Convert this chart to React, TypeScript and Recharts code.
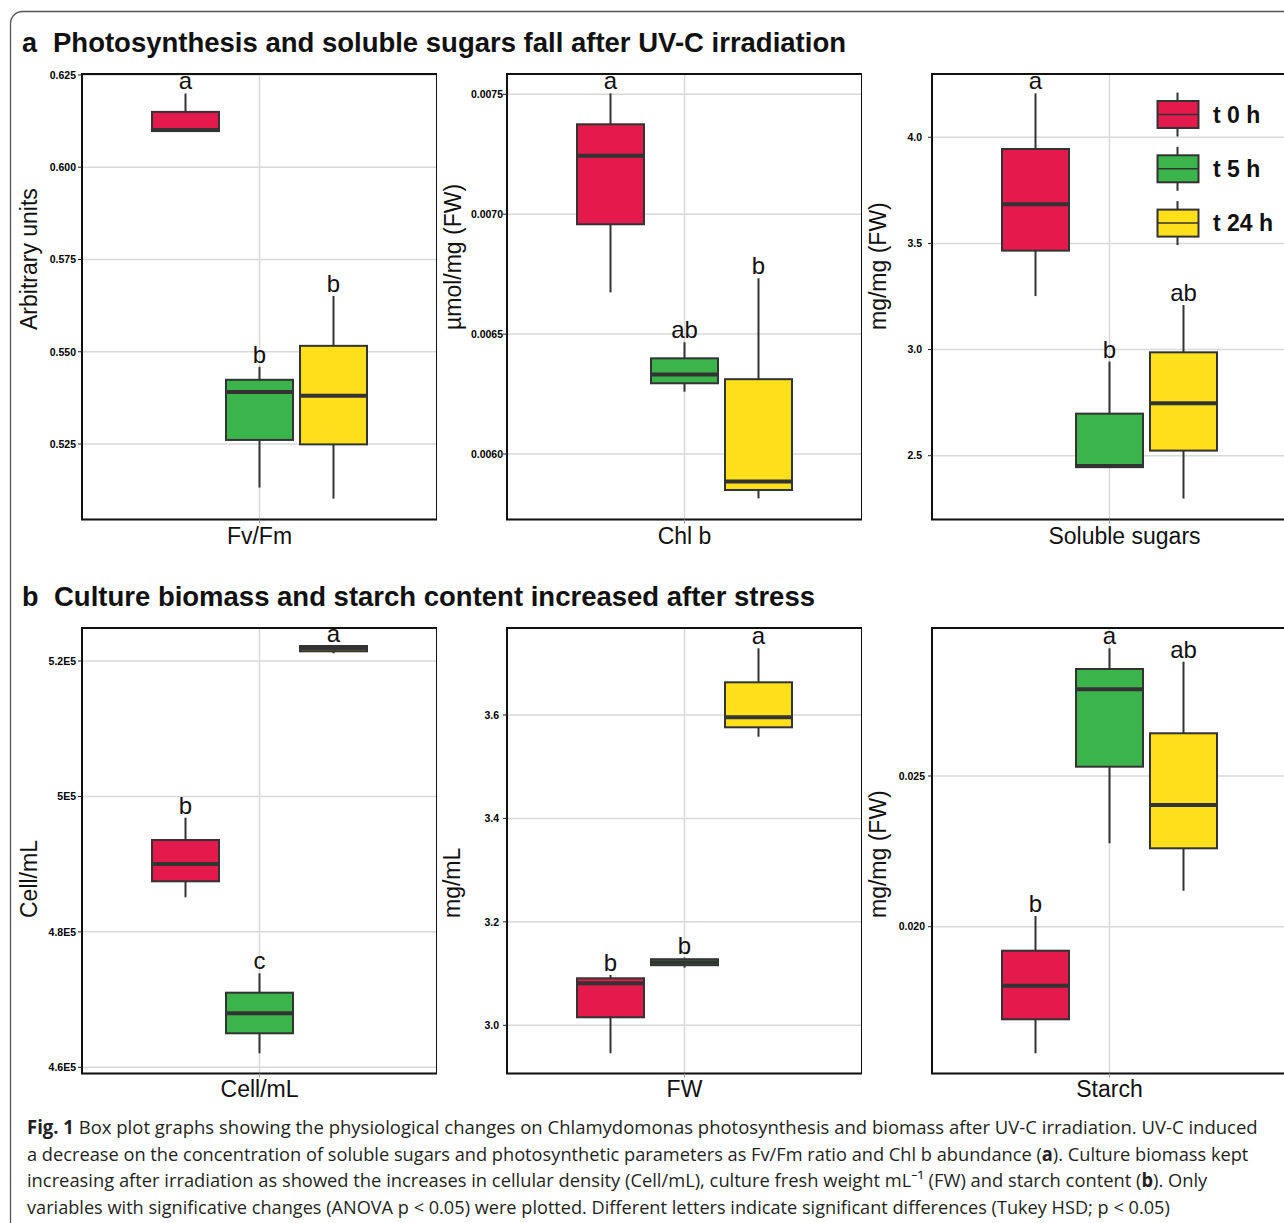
import React, { useLayoutEffect, useRef, useState } from 'react'
import { BarChart, Bar, XAxis, YAxis, CartesianGrid, ReferenceArea, Legend } from 'recharts'

const groups = ['t 0 h', 't 5 h', 't 24 h']
const COLORS = ['#E31A4B', '#3BB44C', '#FFE01B']
const FONT = '"Liberation Sans", Arial, Helvetica, sans-serif'

// each row: [min, q1, median, q3, max] for t 0 h, t 5 h, t 24 h
const fvfmStats = [
  [0.6098, 0.6098, 0.6101, 0.615, 0.62],
  [0.5132, 0.5261, 0.5391, 0.5424, 0.5459],
  [0.5102, 0.5249, 0.5381, 0.5516, 0.5651],
]
const fvfmLetters = ['a', 'b', 'b']
const fvfmTicks = [0.525, 0.55, 0.575, 0.6, 0.625]
const fvfmTickLabels = ['0.525', '0.550', '0.575', '0.600', '0.625']

const chlbStats = [
  [0.006674, 0.006958, 0.007244, 0.007375, 0.007504],
  [0.00626, 0.006295, 0.006332, 0.006399, 0.006466],
  [0.005815, 0.00585, 0.005885, 0.006312, 0.006733],
]
const chlbLetters = ['a', 'ab', 'b']
const chlbTicks = [0.006, 0.0065, 0.007, 0.0075]
const chlbTickLabels = ['0.0060', '0.0065', '0.0070', '0.0075']

const sugarStats = [
  [3.252, 3.466, 3.684, 3.945, 4.207],
  [2.446, 2.446, 2.452, 2.698, 2.943],
  [2.298, 2.524, 2.747, 2.987, 3.21],
]
const sugarLetters = ['a', 'b', 'ab']
const sugarTicks = [2.5, 3.0, 3.5, 4.0]
const sugarTickLabels = ['2.5', '3.0', '3.5', '4.0']

const cellStats = [
  [485105, 487468, 490023, 493567, 496860],
  [462068, 465022, 467975, 471017, 473882],
  [521137, 521432, 521846, 522215, 522215],
]
const cellLetters = ['b', 'c', 'a']
const cellTicks = [460000, 480000, 500000, 520000]
const cellTickLabels = ['4.6E5', '4.8E5', '5E5', '5.2E5']

const fwStats = [
  [2.9459, 3.0155, 3.0812, 3.0909, 3.0973],
  [3.1115, 3.1162, 3.122, 3.1278, 3.1309],
  [3.558, 3.5762, 3.5956, 3.6632, 3.729],
]
const fwLetters = ['b', 'b', 'a']
const fwTicks = [3.0, 3.2, 3.4, 3.6]
const fwTickLabels = ['3.0', '3.2', '3.4', '3.6']

const starchStats = [
  [0.0158, 0.016928, 0.018042, 0.019204, 0.020355],
  [0.022767, 0.025309, 0.027877, 0.02855, 0.029237],
  [0.021193, 0.022601, 0.024038, 0.026417, 0.028792],
]
const starchLetters = ['b', 'a', 'ab']
const starchTicks = [0.02, 0.025]
const starchTickLabels = ['0.020', '0.025']

const PW = 355
const PH = 445.5
const YW = 70
const TOP = 30

function BoxShape(props: any) {
  const { x, y, width, height, payload, k } = props
  const [mn, q1, md, q3, mx] = payload.stats[k]
  const toY = (v: number) => y + (height * (mx - v)) / (mx - mn)
  const cx = x + width / 2
  return (
    <g>
      <line x1={cx} x2={cx} y1={toY(mx)} y2={toY(mn)} stroke="#333" strokeWidth={2} />
      <rect x={x} y={toY(q3)} width={width} height={toY(q1) - toY(q3)} fill={COLORS[k]} stroke="#333" strokeWidth={2} />
      <line x1={x + 1} x2={x + width - 1} y1={toY(md)} y2={toY(md)} stroke="#333" strokeWidth={4} />
      <text x={cx} y={toY(mx) - 4} textAnchor="middle" fontSize={24} fill="#111" fontFamily={FONT}>
        {payload.letters[k]}
      </text>
    </g>
  )
}

function XTick(props: any) {
  const { x, y, payload, dx } = props
  return (
    <text x={x + (dx || 0)} y={y} dy="0.72em" textAnchor="middle" fontSize={23} fill="#111" fontFamily={FONT}>
      {payload.value}
    </text>
  )
}

function YTick(props: any) {
  const { x, y, payload, labels, ticks } = props
  return (
    <text x={x} y={y} dy="0.36em" textAnchor="end" fontSize={10.5} fontWeight="bold" fill="#000" fontFamily={FONT}>
      {labels[ticks.indexOf(payload.value)]}
    </text>
  )
}

function LegendBoxes({ payload }: any) {
  const items = [...(payload || [])].sort((a: any, b: any) => groups.indexOf(a.value) - groups.indexOf(b.value))
  return (
    <svg width={130} height={170}>
      {items.map((e: any, i: number) => {
        const cy = 22.5 + i * 54.3
        return (
          <g key={e.value}>
            <line x1={21.5} x2={21.5} y1={cy - 22} y2={cy + 22} stroke="#333" strokeWidth={2} />
            <rect x={1.5} y={cy - 13.5} width={41} height={27} fill={e.color} stroke="#333" strokeWidth={2} />
            <line x1={1.5} x2={42.5} y1={cy} y2={cy} stroke="#333" strokeWidth={1.5} />
            <text x={57} y={cy + 8} fontSize={23} fontWeight={700} fill="#111" fontFamily={FONT}>
              {e.value}
            </text>
          </g>
        )
      })}
    </svg>
  )
}

function Panel(p: any) {
  const row = { name: p.category, stats: p.stats, letters: p.letters }
  return (
    <div style={{ position: 'absolute', left: p.left - YW, top: p.top - TOP, fontFamily: FONT }}>
      <BarChart
        width={PW + YW}
        height={PH + 40 + TOP}
        data={[row]}
        margin={{ top: TOP, right: 0, bottom: 0, left: 0 }}
        barSize={67}
        barGap={7}
      >
        <CartesianGrid stroke="#d9d9d9" strokeWidth={1.5} />
        <XAxis
          dataKey="name"
          height={40}
          axisLine={false}
          tickLine={{ stroke: '#999' }}
          tickSize={4}
          tickMargin={p.xMargin}
          tick={<XTick dx={p.labelDx} />}
        />
        <YAxis
          type="number"
          width={YW}
          domain={p.domain}
          ticks={p.ticks}
          interval={0}
          tick={<YTick labels={p.tickLabels} ticks={p.ticks} />}
          tickSize={4}
          tickMargin={p.yMargin}
          axisLine={false}
          tickLine={{ stroke: '#222' }}
        />
        <ReferenceArea
          y1={p.domain[0]}
          y2={p.domain[1]}
          fill="none"
          stroke="#111"
          strokeWidth={2}
          ifOverflow="visible"
        />
        {groups.map((g, i) => (
          <Bar
            key={g}
            name={g}
            dataKey={(d: any) => [d.stats[i][0], d.stats[i][4]]}
            fill={COLORS[i]}
            isAnimationActive={false}
            shape={(s: any) => <BoxShape {...s} k={i} />}
          />
        ))}
        {p.legend && (
          <Legend
            layout="vertical"
            align="center"
            verticalAlign="middle"
            content={<LegendBoxes />}
            wrapperStyle={{ position: 'absolute', left: 294, top: 18 + TOP, width: 130, height: 170 }}
          />
        )}
      </BarChart>
    </div>
  )
}

// caption line squeezed horizontally to the width it has in the figure
function FitLine({ x, y, width, children }: any) {
  const ref = useRef<SVGTextElement>(null)
  const [s, setS] = useState(1)
  useLayoutEffect(() => {
    if (ref.current) {
      const w = ref.current.getComputedTextLength()
      if (w > 0) setS(width / w)
    }
  }, [width])
  return (
    <text ref={ref} x={0} y={0} transform={`translate(${x},${y}) scale(${s},1)`}>
      {children}
    </text>
  )
}

const cap = { fontFamily: '"Open Sans", "Noto Sans", sans-serif', fontSize: 19, fill: '#231f20' }

export default function App() {
  return (
    <div
      style={{
        position: 'absolute',
        left: 0,
        top: 0,
        width: 1284,
        height: 1223,
        overflow: 'hidden',
        background: '#fff',
      }}
    >
      <Panel category="Fv/Fm" stats={fvfmStats} letters={fvfmLetters} ticks={fvfmTicks} tickLabels={fvfmTickLabels}
        domain={[0.50454, 0.62527]} left={82} top={74} xMargin={4} yMargin={2} />
      <Panel category="Chl b" stats={chlbStats} letters={chlbLetters} ticks={chlbTicks} tickLabels={chlbTickLabels}
        domain={[0.0057269, 0.0075847]} left={507} top={74} xMargin={4} yMargin={0} />
      <Panel category="Soluble sugars" stats={sugarStats} letters={sugarLetters} ticks={sugarTicks} tickLabels={sugarTickLabels}
        domain={[2.1994, 4.2982]} left={932} top={74} xMargin={4} yMargin={6} labelDx={15} legend />
      <Panel category="Cell/mL" stats={cellStats} letters={cellLetters} ticks={cellTicks} tickLabels={cellTickLabels}
        domain={[459084, 524873]} left={82} top={628} xMargin={3} yMargin={2} />
      <Panel category="FW" stats={fwStats} letters={fwLetters} ticks={fwTicks} tickLabels={fwTickLabels}
        domain={[2.9068, 3.7682]} left={507} top={628} xMargin={3} yMargin={4} />
      <Panel category="Starch" stats={starchStats} letters={starchLetters} ticks={starchTicks} tickLabels={starchTickLabels}
        domain={[0.01513, 0.02991]} left={932} top={628} xMargin={3} yMargin={3} />

      <svg width={1284} height={1223} style={{ position: 'absolute', left: 0, top: 0, pointerEvents: 'none' }}>
        <rect x={10.5} y={11.5} width={1320} height={1260} rx={12} fill="none" stroke="#555" strokeWidth={1.3} />

        <g fontFamily={FONT} fontWeight={700} fontSize={27} fill="#111">
          <text x={22} y={52}>a</text>
          <text x={53} y={52} textLength={793} lengthAdjust="spacingAndGlyphs">
            Photosynthesis and soluble sugars fall after UV-C irradiation
          </text>
          <text x={22} y={605.5}>b</text>
          <text x={54} y={605.5} textLength={761} lengthAdjust="spacingAndGlyphs">
            Culture biomass and starch content increased after stress
          </text>
        </g>

        <g fontFamily={FONT} fontSize={23} fill="#111">
          <text transform="translate(37,330) rotate(-90)">Arbitrary units</text>
          <text transform="translate(461,330) rotate(-90)">µmol/mg (FW)</text>
          <text transform="translate(886,330) rotate(-90)">mg/mg (FW)</text>
          <text transform="translate(37,918) rotate(-90)">Cell/mL</text>
          <text transform="translate(460,918) rotate(-90)">mg/mL</text>
          <text transform="translate(886,918) rotate(-90)">mg/mg (FW)</text>
        </g>

        <g {...cap}>
          <FitLine x={27} y={1134} width={1231}>
            <tspan fontWeight={700}>Fig. 1</tspan>
            {'  Box plot graphs showing the physiological changes on Chlamydomonas photosynthesis and biomass after UV-C irradiation. UV-C induced'}
          </FitLine>
          <FitLine x={27} y={1161} width={1222}>
            {'a decrease on the concentration of soluble sugars and photosynthetic parameters as Fv/Fm ratio and Chl b abundance ('}
            <tspan fontWeight={700}>a</tspan>
            {'). Culture biomass kept'}
          </FitLine>
          <FitLine x={27} y={1187} width={1181}>
            {'increasing after irradiation as showed the increases in cellular density (Cell/mL), culture fresh weight mL⁻¹ (FW) and starch content ('}
            <tspan fontWeight={700}>b</tspan>
            {'). Only'}
          </FitLine>
          <FitLine x={27} y={1214} width={1143}>
            {'variables with significative changes (ANOVA p < 0.05) were plotted. Different letters indicate significant differences (Tukey HSD; p < 0.05)'}
          </FitLine>
        </g>
      </svg>
    </div>
  )
}
